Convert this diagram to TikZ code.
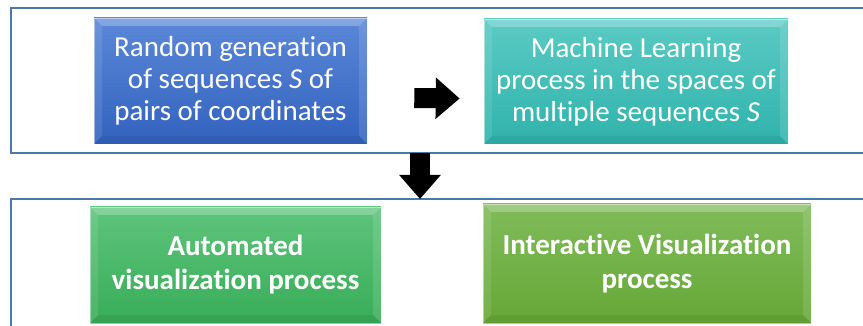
\documentclass[tikz,border=0pt]{standalone}
\usepackage{fontspec}
\setmainfont[Ligatures={NoCommon}]{Carlito}
\usetikzlibrary{arrows.meta}
\definecolor{frameblue}{HTML}{4A78AC}
\definecolor{blueT}{HTML}{5B88D8}
\definecolor{blueB}{HTML}{3262BE}
\definecolor{tealT}{HTML}{5BCAC4}
\definecolor{tealB}{HTML}{2FB3AC}
\definecolor{greenT}{HTML}{5EC47C}
\definecolor{greenB}{HTML}{38AD58}
\definecolor{lgreenT}{HTML}{80BC5A}
\definecolor{lgreenB}{HTML}{66A737}
\tikzset{
  procbox/.style={rectangle, inner sep=0pt, text=white, align=center,
    font=\fontsize{29}{32}\selectfont, shading=axis,
    draw=white, draw opacity=0.45, line width=0.6pt,
    path picture={
      \fill[white,opacity=.25] (path picture bounding box.north west) -- (path picture bounding box.north east)
        -- ([shift={(-8pt,-8pt)}]path picture bounding box.north east) -- ([shift={(8pt,-8pt)}]path picture bounding box.north west) -- cycle;
      \fill[white,opacity=.10] (path picture bounding box.north west) -- ([shift={(8pt,-8pt)}]path picture bounding box.north west)
        -- ([shift={(8pt,8pt)}]path picture bounding box.south west) -- (path picture bounding box.south west) -- cycle;
      \fill[white,opacity=.12] (path picture bounding box.north east) -- ([shift={(-8pt,-8pt)}]path picture bounding box.north east)
        -- ([shift={(-8pt,8pt)}]path picture bounding box.south east) -- (path picture bounding box.south east) -- cycle;
      \fill[black,opacity=.06] (path picture bounding box.south west) -- (path picture bounding box.south east)
        -- ([shift={(-8pt,8pt)}]path picture bounding box.south east) -- ([shift={(8pt,8pt)}]path picture bounding box.south west) -- cycle;
    }},
  framebox/.style={rectangle, draw=frameblue, line width=2pt, inner sep=0pt},
  blockarrow/.style={draw=black, line width=20pt, -{Triangle[length=24pt,width=40pt]}}
}
\begin{document}
\begin{tikzpicture}[x=1pt,y=-1pt]
\useasboundingbox (0,0) rectangle (863,326);
\clip (0,0) rectangle (863,326);
\node[framebox, minimum width=889pt, minimum height=145pt] (topframe) at (455.5,80.5) {};
\node[framebox, minimum width=889pt, minimum height=150pt] (botframe) at (455.5,274) {};
\node[procbox, top color=blueT, bottom color=blueB, minimum width=273pt, minimum height=126pt] (gen) at (230.5,81)
  {Random generation\\of sequences \textit{S} of\\pairs of coordinates};
\node[procbox, top color=tealT, bottom color=tealB, minimum width=304pt, minimum height=125pt] (ml) at (636,81.5)
  {Machine Learning\\process in the spaces of\\multiple sequences \textit{S}};
\node[procbox, top color=greenT, bottom color=greenB, minimum width=291pt, minimum height=116pt, font=\fontsize{29}{34}\bfseries] (auto) at (235.5,265)
  {Automated\\visualization process};
\node[procbox, top color=lgreenT, bottom color=lgreenB, minimum width=328pt, minimum height=119pt, font=\fontsize{29}{34}\bfseries] (inter) at (647,263.5)
  {Interactive Visualization\\process};
\draw[blockarrow] ([xshift=47pt,yshift=-17pt]gen.east) -- ([xshift=-24pt,yshift=-17pt]ml.west);
\coordinate (dx) at (420,0);
\draw[blockarrow] ([yshift=1pt]topframe.south -| dx) -- ([yshift=-1pt]botframe.north -| dx);
\end{tikzpicture}
\end{document}
